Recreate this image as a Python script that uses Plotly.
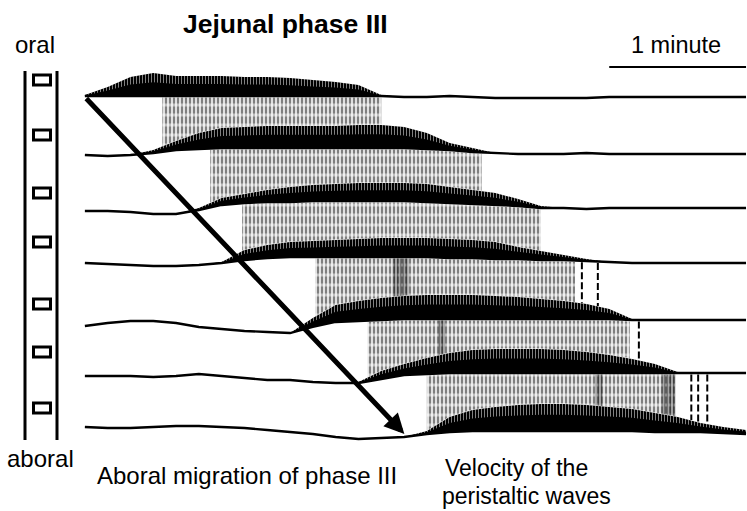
import numpy as np
import plotly.graph_objects as go

# ---------------- data ----------------
# time grid (s) shared by all channels
t_s = [0, 10, 20, 30, 40, 50, 60, 70, 80, 90, 100, 110, 120, 130, 140,
       150, 160, 170, 180, 190, 200, 210, 220, 230, 240, 250, 260, 270, 280, 290]

# vertical display offset of each recording channel (oral -> aboral)
channel_offset = [414, 356, 300, 247, 186, 134, 83]

# baseline tone (display units, up = positive) per channel
ch1_tone = [1, 1, 1, 1, 1, 1, 1, 1, 1, 1, 1, 1, 1, 1, 0, 0, 1, 0, -1, -1, -1, -1, -1, 0, 0, 0, 0, 0, 0, 0]
ch2_tone = [0, -1, 0, 2, 5, 6, 7, 7, 7, 7, 7, 7, 7, 7, 7, 6, 5, 3, 2, 1, 1, 1, 2, 1, 1, 1, 1, 1, 1, 1]
ch3_tone = [0, 0, -1, -3, -3, 1, 6, 8, 9, 9, 10, 10, 10, 10, 10, 9, 8, 7, 6, 5, 3, 3, 2, 3, 3, 3, 3, 3, 3, 3]
ch4_tone = [1, 0, -1, -2, -2, -1, 1, 4, 6, 7, 7, 7, 7, 7, 7, 7, 6, 6, 5, 5, 4, 4, 3, 2, 1, 1, 1, 1, 1, 1]
ch5_tone = [-1, 2, 4, 4, 2, -2, -4, -6, -7, -8, -2, 3, 4, 5, 6, 6, 6, 6, 6, 6, 6, 6, 6, 6, 5, 5, 5, 5, 5, 5]
ch6_tone = [1, 1, 1, 0, 1, 3, 1, -1, -3, -3, -5, -6, -6, -2, 2, 3, 4, 4, 4, 4, 4, 4, 4, 4, 4, 4, 4, 4, 4, 4]
ch7_tone = [1, 0, 0, 1, 2, 2, 1, 0, -2, -4, -6, -9, -11, -10, -9, -6, -4, -3, -3, -3, -3, -3, -3, -3, -3, -4, -4, -4, -5, -6]

# phase III contraction amplitude (envelope) per channel
ch1_amp = [1, 9, 19, 23, 20, 20, 20, 19, 19, 18, 16, 14, 11, 1, 0, 0, 0, 0, 0, 0, 0, 0, 0, 0, 0, 0, 0, 0, 0, 0]
ch2_amp = [0, 0, 0, 3, 9, 16, 20, 21, 22, 22, 22, 22, 23, 23, 21, 16, 7, 4, 0, 0, 0, 0, 0, 0, 0, 0, 0, 0, 0, 0]
ch3_amp = [0, 0, 0, 0, 0, 2, 7, 9, 12, 15, 16, 17, 18, 18, 18, 18, 16, 14, 12, 7, 2, 0, 0, 0, 0, 0, 0, 0, 0, 0]
ch4_amp = [0, 0, 0, 0, 0, 0, 1, 10, 13, 15, 16, 17, 18, 19, 19, 19, 19, 18, 17, 12, 9, 5, 2, 0, 0, 0, 0, 0, 0, 0]
ch5_amp = [0, 0, 0, 0, 0, 0, 0, 0, 0, 0, 9, 17, 20, 22, 23, 24, 24, 24, 23, 22, 20, 18, 15, 10, 1, 0, 0, 0, 0, 0]
ch6_amp = [0, 0, 0, 0, 0, 0, 0, 0, 0, 0, 0, 0, 1, 8, 11, 16, 20, 23, 24, 24, 24, 23, 21, 18, 14, 9, 1, 0, 0, 0]
ch7_amp = [0, 0, 0, 0, 0, 0, 0, 0, 0, 0, 0, 0, 0, 0, 0, 3, 15, 21, 24, 26, 27, 27, 26, 24, 22, 19, 15, 9, 6, 4]

# time window (s) in which propagated waves link channel i and i+1
gap_start_s = [34, 55, 69, 101, 124, 150]
gap_end_s = [130, 174, 200, 215, 239, 259]
# isolated propagated waves after the main run (s)
gap_extra_waves = [[], [], [], [218, 225], [243], [266, 269, 273]]
# clusters of closely spaced waves (start s, end s)
gap_dense = [[], [], [], [(135, 142)], [(155, 158)], [(224, 227), (253, 259)]]

scale_bar_start_s = 230
scale_bar_len_s = 60

tones = [ch1_tone, ch2_tone, ch3_tone, ch4_tone, ch5_tone, ch6_tone, ch7_tone]
amps = [ch1_amp, ch2_amp, ch3_amp, ch4_amp, ch5_amp, ch6_amp, ch7_amp]

# ---------------- figure ----------------
W, H = 747, 511
PX_PER_S = 137 / 60.0
X0_PX = 85
FONT = "Liberation Sans, Arial, Helvetica, sans-serif"


def P(px, py):
    return px / W, 1 - py / H


t = np.array(t_s, dtype=float)
bases = [channel_offset[i] + np.array(tones[i], float) for i in range(7)]
tops = [bases[i] + np.array(amps[i], float) for i in range(7)]

fig = go.Figure()


def poly(ts, upper, lower):
    return list(ts) + list(ts[::-1]), list(upper) + list(lower[::-1])


def pattern_fill(xs, ys, shape, color, size, solidity):
    fig.add_trace(go.Scatter(x=xs, y=ys, fill="toself", mode="none",
                             fillcolor="rgba(0,0,0,0)",
                             fillpattern=dict(shape=shape, fgcolor=color, bgcolor="rgba(0,0,0,0)",
                                              size=size, solidity=solidity),
                             hoverinfo="skip", showlegend=False))


# dashed propagated waves between neighbouring channels
for g in range(6):
    a, b = gap_start_s[g], gap_end_s[g]
    ts = np.array([a] + [v for v in t_s if a < v < b] + [b], float)
    up = np.interp(ts, t, bases[g]) - 1.5
    lo = np.interp(ts, t, tops[g + 1]) + 0.5
    xs, ys = poly(ts, up, lo)
    pattern_fill(xs, ys, "|", "black", 4, 0.62)
    pattern_fill(xs, ys, "-", "white", 10, 0.3)
    for (da, db) in gap_dense[g]:
        ts2 = np.array([da, db], float)
        up2 = np.interp(ts2, t, bases[g]) - 1.5
        lo2 = np.interp(ts2, t, tops[g + 1]) + 0.5
        xs2, ys2 = poly(ts2, up2, lo2)
        pattern_fill(xs2, ys2, "|", "black", 3, 0.7)
    for w in gap_extra_waves[g]:
        y_up = float(np.interp(w, t, bases[g])) - 1.5
        y_lo = float(np.interp(w, t, tops[g + 1])) + 0.5
        fig.add_trace(go.Scatter(x=[w, w], y=[y_up, y_lo], mode="lines",
                                 line=dict(color="black", width=2, dash="7px,3px"),
                                 hoverinfo="skip", showlegend=False))

# phase III bursts (solid envelope with spike gaps near the top) and baselines
for i in range(7):
    base, top = bases[i], tops[i]
    xs, ys = poly(t, top, base)
    fig.add_trace(go.Scatter(x=xs, y=ys, fill="toself", mode="none", fillcolor="black",
                             hoverinfo="skip", showlegend=False))
    mid = base + 0.6 * (top - base)
    xs, ys = poly(t, top + 0.3, mid)
    pattern_fill(xs, ys, "|", "white", 3, 1 / 3)
    fig.add_trace(go.Scatter(x=t, y=base, mode="lines", line=dict(color="black", width=2.3),
                             hoverinfo="skip", showlegend=False))

shapes = []
# 1-minute scale bar (drawn on the time axis)
shapes.append(dict(type="line", xref="x", yref="y", x0=scale_bar_start_s,
                   x1=scale_bar_start_s + scale_bar_len_s, y0=H - 67, y1=H - 67,
                   line=dict(color="black", width=1.8)))
# catheter drawing
for cx in (25, 57):
    xa, ya = P(cx, 71)
    xb, yb = P(cx, 440)
    shapes.append(dict(type="line", xref="paper", yref="paper", x0=xa, x1=xb, y0=ya, y1=yb,
                       line=dict(color="black", width=3)))
for sy in [80, 135, 193, 242, 304, 352, 408]:
    xa, ya = P(33.5, sy - 5)
    xb, yb = P(50.5, sy + 5)
    shapes.append(dict(type="rect", xref="paper", yref="paper", x0=xa, x1=xb, y0=ya, y1=yb,
                       line=dict(color="black", width=3), fillcolor="white"))

annotations = []
# migration arrow
annotations.append(dict(x=(405 - X0_PX) / PX_PER_S, y=H - 434, xref="x", yref="y",
                        ax=0, ay=H - 97, axref="x", ayref="y", text="", showarrow=True,
                        arrowhead=2, arrowsize=0.8, arrowwidth=5, arrowcolor="black"))


def label(text, cx, cy, size, anchor="center"):
    x, y = P(cx, cy)
    annotations.append(dict(x=x, y=y, xref="paper", yref="paper", text=text, showarrow=False,
                            xanchor=anchor, yanchor="middle",
                            font=dict(family=FONT, size=size, color="black")))


label("<b>Jejunal phase III</b>", 285, 24, 26.5)
label("oral", 35, 44, 24)
label("aboral", 40, 458, 24)
label("1 minute", 676, 45, 23.5)
label("Aboral migration of phase III", 247, 475, 24)
label("Velocity of the", 443, 468, 23, "left")
label("peristaltic waves", 440, 496, 23, "left")

fig.update_layout(
    width=W, height=H, autosize=False,
    margin=dict(l=0, r=0, t=0, b=0),
    paper_bgcolor="white", plot_bgcolor="white",
    xaxis=dict(range=[-X0_PX / PX_PER_S, (W - X0_PX) / PX_PER_S + 0.5], visible=False, fixedrange=True),
    yaxis=dict(range=[0, H], visible=False, fixedrange=True),
    shapes=shapes, annotations=annotations, showlegend=False,
)

fig.write_html("out.html", config={"displayModeBar": False},
               post_script="document.body.style.margin='0';document.body.style.overflow='hidden';")
